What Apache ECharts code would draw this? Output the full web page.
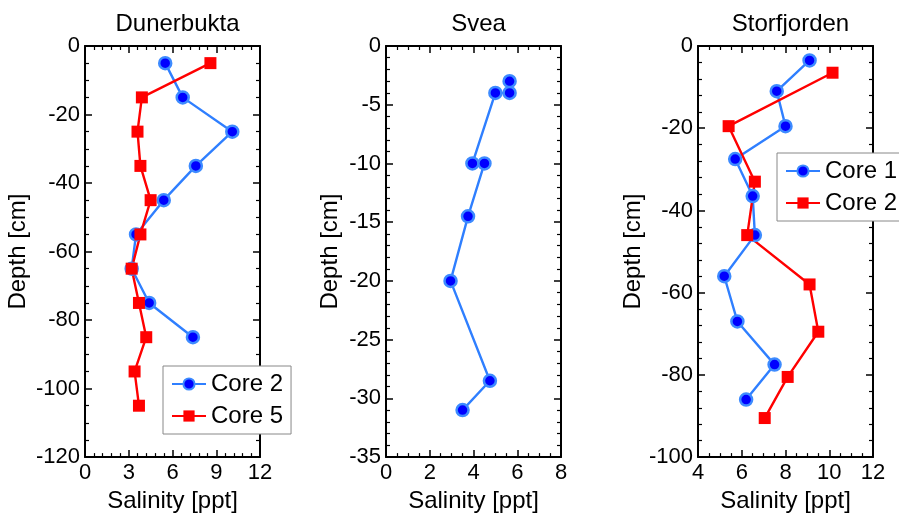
<!DOCTYPE html>
<html>
<head>
<meta charset="utf-8">
<script src="https://cdn.jsdelivr.net/npm/echarts@6/dist/echarts.min.js"></script>
<style>
html,body{margin:0;padding:0;background:#fff;}
#main{width:899px;height:518px;}
</style>
</head>
<body>
<div id="main"></div>
<script>
// salinity profiles, depth as negative cm
var dunCore2Sal = [5.5, 6.7, 10.1, 7.6, 5.4, 3.5, 3.2, 4.4, 7.4];
var dunCore2Depth = [-5, -15, -25, -35, -45, -55, -65, -75, -85];
var dunCore5Sal = [8.6, 3.9, 3.6, 3.8, 4.5, 3.8, 3.2, 3.7, 4.2, 3.4, 3.7];
var dunCore5Depth = [-5, -15, -25, -35, -45, -55, -65, -75, -85, -95, -105];

var sveaSal = [5.65, 5.65, 5.0, 3.95, 4.5, 3.75, 2.95, 4.75, 3.5];
var sveaDepth = [-3, -4, -4, -10, -10, -14.5, -20, -28.5, -31];

var storCore1Sal = [9.1, 7.6, 8.0, 5.7, 6.5, 6.6, 5.2, 5.8, 7.5, 6.2];
var storCore1Depth = [-3.5, -11, -19.5, -27.5, -36.5, -46, -56, -67, -77.5, -86];
var storCore2Sal = [10.15, 5.4, 6.6, 6.25, 9.1, 9.5, 8.1, 7.05];
var storCore2Depth = [-6.5, -19.5, -33, -46, -58, -69.5, -80.5, -90.5];

var titles = ['Dunerbukta', 'Svea', 'Storfjorden'];
var xRanges = [[0, 12, 3, 5], [0, 8, 2, 4], [4, 12, 2, 4]];
var yRanges = [[-120, 0, 20, 4], [-35, 0, 5, 5], [-100, 0, 20, 5]];
var gridLeft = [85, 386, 698];
var yNameGap = [55, 44, 41];

var FONT = 'Liberation Sans, Arial, sans-serif';
var BLUE_LINE = '#2f7fff';
var BLUE_FILL = '#0000ff';
var BLUE_RING = '#3d8bff';
var RED = '#ff0000';

function pairs(xs, ys) {
    var out = [];
    for (var i = 0; i < xs.length; i++) out.push([xs[i], ys[i]]);
    return out;
}

var chart = echarts.init(document.getElementById('main'));

var grids = [], xAxes = [], yAxes = [], titleList = [];
for (var g = 0; g < 3; g++) {
    grids.push({left: gridLeft[g], top: 46, width: 175, height: 417, containLabel: false});
    titleList.push({
        text: titles[g], left: gridLeft[g] + 87.5, top: 7, textAlign: 'center',
        textStyle: {fontFamily: FONT, fontSize: 24, fontWeight: 'normal', color: '#000'}
    });
    for (var side = 0; side < 2; side++) {
        var xr = xRanges[g], yr = yRanges[g];
        xAxes.push({
            type: 'value', gridIndex: g, position: side ? 'top' : 'bottom',
            min: xr[0], max: xr[1], interval: xr[2],
            name: side ? '' : 'Salinity [ppt]', nameLocation: 'middle', nameGap: 29,
            nameTextStyle: {fontFamily: FONT, fontSize: 24, color: '#000'},
            axisLine: {show: true, onZero: false, lineStyle: {color: '#000', width: 2}},
            axisTick: {show: true, inside: true, length: 7, lineStyle: {color: '#000', width: 1.5}},
            minorTick: {show: true, splitNumber: xr[3], length: 4, lineStyle: {color: '#000', width: 1.2}},
            axisLabel: {show: !side, margin: 5, fontFamily: FONT, fontSize: 22, color: '#000'},
            splitLine: {show: false}
        });
        yAxes.push({
            type: 'value', gridIndex: g, position: side ? 'right' : 'left',
            min: yr[0], max: yr[1], interval: yr[2],
            name: side ? '' : 'Depth [cm]', nameLocation: 'middle', nameGap: yNameGap[g],
            nameTextStyle: {fontFamily: FONT, fontSize: 24, color: '#000'},
            axisLine: {show: true, onZero: false, lineStyle: {color: '#000', width: 2}},
            axisTick: {show: true, inside: true, length: 7, lineStyle: {color: '#000', width: 1.5}},
            minorTick: {show: true, splitNumber: yr[3], length: 4, lineStyle: {color: '#000', width: 1.2}},
            axisLabel: {show: !side, margin: 5, fontFamily: FONT, fontSize: 22, color: '#000'},
            splitLine: {show: false}
        });
    }
}

function blueSeries(name, g, data) {
    return {
        name: name, type: 'line', xAxisIndex: g * 2, yAxisIndex: g * 2,
        data: data, symbol: 'circle', symbolSize: 12, animation: false,
        lineStyle: {color: BLUE_LINE, width: 2.4},
        itemStyle: {color: BLUE_FILL, borderColor: BLUE_RING, borderWidth: 2.5}
    };
}
function redSeries(name, g, data) {
    return {
        name: name, type: 'line', xAxisIndex: g * 2, yAxisIndex: g * 2,
        data: data, symbol: 'rect', symbolSize: 12, animation: false,
        lineStyle: {color: RED, width: 2.4},
        itemStyle: {color: RED, borderColor: RED, borderWidth: 0}
    };
}

var legendBase = {
    orient: 'vertical', itemWidth: 34, itemHeight: 14, itemGap: 8,
    padding: [6, 8, 6, 8], borderColor: '#888', borderWidth: 1, backgroundColor: '#fff',
    selectedMode: false,
    textStyle: {fontFamily: FONT, fontSize: 24, color: '#000', lineHeight: 23},
    formatter: function (n) { return n.trim(); }
};

var option = {
    backgroundColor: '#fff',
    animation: false,
    title: titleList,
    grid: grids,
    xAxis: xAxes,
    yAxis: yAxes,
    legend: [
        echarts.util.merge({left: 163, top: 366, data: ['Core 2', 'Core 5']}, legendBase),
        echarts.util.merge({left: 777, top: 153, data: ['Core 1', 'Core 2 ']}, legendBase)
    ],
    series: [
        blueSeries('Core 2', 0, pairs(dunCore2Sal, dunCore2Depth)),
        redSeries('Core 5', 0, pairs(dunCore5Sal, dunCore5Depth)),
        blueSeries('Svea', 1, pairs(sveaSal, sveaDepth)),
        blueSeries('Core 1', 2, pairs(storCore1Sal, storCore1Depth)),
        redSeries('Core 2 ', 2, pairs(storCore2Sal, storCore2Depth))
    ]
};
chart.setOption(option);
</script>
</body>
</html>
